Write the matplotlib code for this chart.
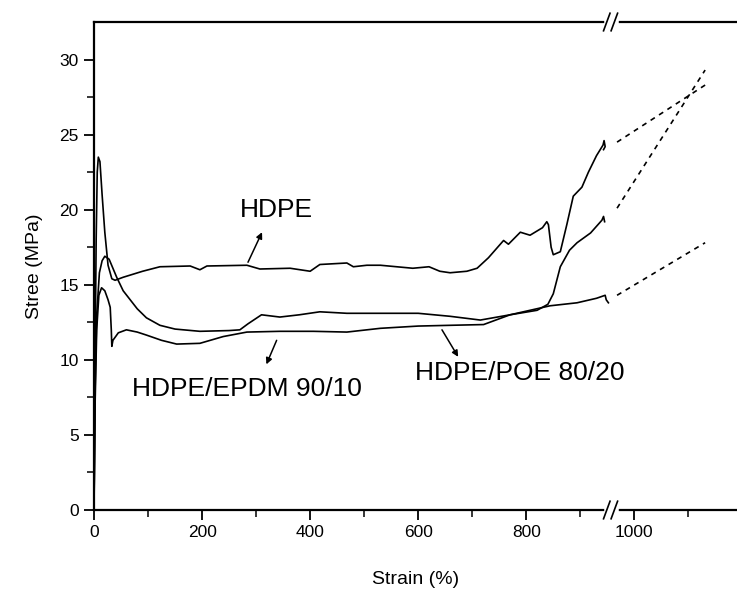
import matplotlib.pyplot as plt
import matplotlib.transforms as mtransforms
import numpy as np

plt.rcParams['font.family'] = ['Liberation Sans', 'DejaVu Sans']

# HDPE (yield peak ~23.5 MPa)
hdpe_x = [0, 2, 4, 6, 8, 11, 15, 20, 26, 33, 39, 54, 90, 122, 178, 196, 209, 283, 307,
          363, 400, 418, 468, 480, 505, 530, 560, 590, 620, 640, 659, 690, 709, 730,
          758, 767, 789, 807, 830, 838, 841, 846, 850, 863, 875, 887, 903, 915, 930,
          942, 944, 946, 943]
hdpe_y = [0, 10, 18, 22.5, 23.5, 23.2, 21, 18.5, 16.3, 15.4, 15.3, 15.5, 15.9, 16.2,
          16.25, 16.0, 16.25, 16.3, 16.05, 16.1, 15.9, 16.35, 16.45, 16.2, 16.3, 16.3,
          16.2, 16.1, 16.2, 15.9, 15.8, 15.9, 16.1, 16.8, 17.95, 17.7, 18.5, 18.3, 18.8,
          19.2, 19.0, 17.5, 17.0, 17.2, 19.0, 20.9, 21.5, 22.5, 23.6, 24.3, 24.6, 24.2, 24.0]

# middle curve (peak ~16.9 MPa)
mid_x = [0, 2, 5, 10, 15, 20, 28, 35, 42, 54, 67, 80, 97, 122, 150, 196, 250, 270, 285,
         310, 344, 380, 418, 468, 530, 600, 659, 715, 770, 820, 840, 850, 863, 880, 894,
         919, 940, 943, 945]
mid_y = [0, 8, 13, 15.8, 16.6, 16.9, 16.7, 16.1, 15.5, 14.6, 14.0, 13.4, 12.8, 12.3,
         12.05, 11.9, 11.95, 12.0, 12.4, 13.0, 12.85, 13.0, 13.2, 13.1, 13.1, 13.1, 12.9,
         12.65, 13.0, 13.3, 13.7, 14.4, 16.2, 17.3, 17.8, 18.45, 19.3, 19.55, 19.2]

# lowest curve (peak ~14.8 MPa)
low_x = [0, 2, 5, 9, 14, 20, 26, 30, 32, 33, 35, 45, 60, 80, 97, 125, 153, 196, 239,
         283, 344, 406, 468, 530, 600, 659, 721, 770, 844, 894, 930, 946, 948, 952]
low_y = [0, 7, 12, 14.3, 14.8, 14.6, 14.0, 13.5, 12, 10.9, 11.3, 11.8, 12.0, 11.85,
         11.65, 11.3, 11.05, 11.1, 11.55, 11.85, 11.9, 11.9, 11.85, 12.1, 12.25, 12.3,
         12.35, 13.0, 13.6, 13.8, 14.1, 14.3, 14.0, 13.8]

# dashed extrapolations after the axis break
ext_x = [968, 1131]
ext_hdpe = [24.5, 28.3]
ext_mid = [20.1, 29.3]
ext_low = [14.3, 17.8]

fig = plt.figure(figsize=(7.37, 5.93), dpi=100)
ax = fig.add_axes([94 / 737, 83 / 593, 643 / 737, 488 / 593])

for xs, ys in [(hdpe_x, hdpe_y), (mid_x, mid_y), (low_x, low_y)]:
    ax.plot(xs, ys, color='black', lw=1.2)
for ys in [ext_hdpe, ext_mid, ext_low]:
    ax.plot(ext_x, ys, color='black', lw=1.2, ls=(0, (3, 3)))

ax.set_xlim(0, 1190)
ax.set_ylim(0, 32.5)
ax.set_xticks(np.arange(0, 1001, 200))
ax.set_xticks(np.arange(100, 1101, 200), minor=True)
ax.set_yticks(np.arange(0, 31, 5))
ax.set_yticks(np.arange(2.5, 32.5, 5), minor=True)
ax.tick_params(which='major', direction='out', length=7, width=1.3, labelsize=12.5, pad=4)
ax.tick_params(which='minor', direction='out', length=5, width=1.1)
ax.tick_params(top=False, right=False)
ax.spines['right'].set_visible(False)
for s in ['left', 'bottom', 'top']:
    ax.spines[s].set_linewidth(1.6)

ax.set_ylabel('Stree (MPa)', fontsize=14, labelpad=12)
ax.set_xlabel('Strain (%)', fontsize=14, labelpad=22)

# axis break marks
trans = mtransforms.blended_transform_factory(ax.transData, ax.transAxes)
for yb in [0, 1]:
    ax.plot([950, 966], [yb, yb], color='white', lw=4, transform=trans, clip_on=False, zorder=5)
    for xb in [947, 961]:
        ax.plot([xb - 4, xb + 8], [yb - 0.018, yb + 0.018], color='black', lw=1.2,
                transform=trans, clip_on=False, zorder=6)

arrow = dict(arrowstyle='-|>', color='black', lw=1.1, shrinkA=0, shrinkB=0, mutation_scale=9)
ax.annotate('', xy=(311, 18.5), xytext=(285, 16.5), arrowprops=arrow)
ax.annotate('', xy=(319, 9.7), xytext=(338, 11.3), arrowprops=arrow)
ax.annotate('', xy=(674, 10.2), xytext=(644, 12.0), arrowprops=arrow)
ax.text(338, 20.0, 'HDPE', fontsize=19, ha='center', va='center')
ax.text(70, 8.07, 'HDPE/EPDM 90/10', fontsize=19, ha='left', va='center')
ax.text(594, 9.13, 'HDPE/POE 80/20', fontsize=19, ha='left', va='center')

fig.savefig('out.png', dpi=100)
